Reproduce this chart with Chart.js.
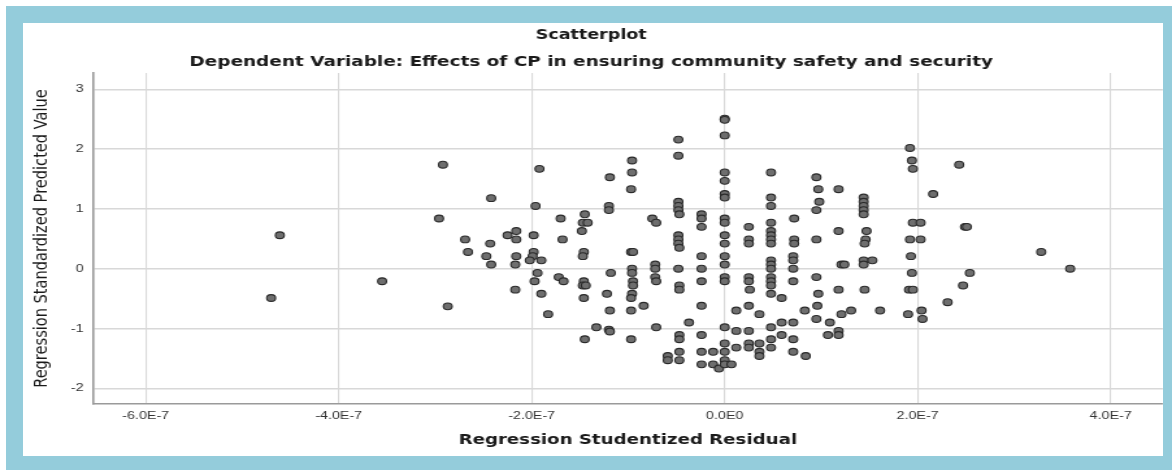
<!DOCTYPE html>
<html><head><meta charset="utf-8">
<script src="https://cdn.jsdelivr.net/npm/chart.js@4.4.1/dist/chart.umd.min.js"></script>
<style>
html,body{margin:0;padding:0;background:#fff;width:1172px;height:470px;overflow:hidden}
#wrap{position:absolute;left:0;top:0;width:902px;height:470px;transform:scaleX(1.29933);transform-origin:0 0}
#frame{position:absolute;left:6px;top:6px;width:1166px;height:464px;box-sizing:border-box;border-style:solid;border-color:#94CCDB;border-width:17px 9px 14px 17px;pointer-events:none}
</style></head><body>
<div id="wrap"><canvas id="c" width="902" height="470" style="width:902px;height:470px"></canvas></div>
<div id="frame"></div>
<script>
// Regression Studentized Residual (in units of 1E-7)
const residualE7 = [
-2.92,-2.96,-4.61,-3.55,-4.70,-2.87,-1.92,-2.42,-1.96,-1.70,
-1.45,-1.47,-1.42,-1.48,-2.69,-2.16,-2.25,-2.16,-1.98,-2.43,
-1.68,-2.66,-2.47,-2.42,-2.16,-2.17,-1.98,-1.99,-2.02,-1.90,
-1.46,-1.47,-1.94,-1.97,-1.72,-1.67,-1.46,-1.47,-1.44,-2.17,
-1.90,-1.46,-1.83,-1.33,-1.45,-1.19,-1.20,-1.20,-1.18,-1.22,
-1.19,-1.20,-1.19,-0.96,-0.96,-0.97,-0.97,-0.95,-0.96,-0.96,
-0.95,-0.95,-0.96,-0.97,-0.97,-0.97,-0.84,-0.75,-0.71,-0.72,
-0.72,-0.72,-0.71,-0.71,-0.48,-0.48,-0.48,-0.48,-0.48,-0.47,
-0.48,-0.48,-0.48,-0.47,-0.48,-0.47,-0.47,-0.47,-0.47,-0.47,
-0.47,-0.59,-0.59,-0.37,-0.24,-0.24,-0.24,-0.24,-0.24,-0.24,
-0.24,-0.24,-0.24,-0.24,-0.12,-0.12,-0.06,0.00,0.00,0.00,
0.00,0.00,0.00,0.00,0.00,0.00,0.00,0.00,0.00,0.00,
0.00,0.00,0.00,0.00,0.00,0.00,0.00,0.07,0.12,0.12,
0.12,0.25,0.25,0.25,0.25,0.25,0.26,0.25,0.25,0.25,
0.25,0.36,0.36,0.36,0.36,0.48,0.48,0.48,0.48,0.48,
0.48,0.48,0.48,0.48,0.48,0.48,0.48,0.48,0.48,0.48,
0.48,0.48,0.48,0.59,0.59,0.59,0.72,0.72,0.72,0.71,
0.71,0.71,0.71,0.71,0.71,0.71,0.84,0.83,0.95,0.97,
0.98,0.95,0.95,0.95,0.97,0.96,0.95,1.09,1.07,1.18,
1.18,1.21,1.24,1.18,1.21,1.18,1.18,1.31,1.44,1.44,
1.44,1.44,1.44,1.47,1.46,1.45,1.44,1.44,1.53,1.45,
1.61,1.92,1.94,1.95,2.16,1.95,2.03,1.92,2.03,1.93,
1.94,1.91,1.95,1.90,2.04,2.05,2.31,2.43,2.49,2.51,
3.28,3.58,2.54,2.47
];
// Regression Standardized Predicted Value
const predicted = [
1.74,0.84,0.56,-0.21,-0.49,-0.63,1.67,1.18,1.05,0.84,
0.91,0.77,0.77,0.63,0.49,0.63,0.56,0.49,0.56,0.42,
0.49,0.28,0.21,0.07,0.21,0.07,0.28,0.21,0.14,0.14,
0.28,0.21,-0.07,-0.21,-0.14,-0.21,-0.21,-0.28,-0.28,-0.35,
-0.42,-0.49,-0.76,-0.98,-1.18,1.53,1.05,0.98,-0.07,-0.42,
-0.70,-1.02,-1.05,1.81,1.61,1.33,0.28,0.28,0.00,-0.07,
-0.21,-0.28,-0.42,-0.49,-0.70,-1.18,-0.62,0.84,0.77,0.07,
0.00,-0.14,-0.21,-0.98,2.16,1.89,1.12,1.05,0.98,0.91,
0.56,0.49,0.42,0.35,0.00,-0.28,-0.35,-1.11,-1.18,-1.39,
-1.53,-1.46,-1.53,-0.90,0.91,0.84,0.70,0.21,0.00,-0.21,
-0.62,-1.11,-1.39,-1.60,-1.39,-1.60,-1.67,2.51,2.49,2.23,
1.61,1.47,1.25,1.19,0.84,0.77,0.56,0.42,0.21,0.07,
-0.14,-0.21,-0.98,-1.25,-1.39,-1.53,-1.60,-1.60,-0.70,-1.04,
-1.32,0.70,0.49,0.42,-0.14,-0.21,-0.35,-0.62,-1.04,-1.25,
-1.32,-0.76,-1.25,-1.39,-1.46,1.61,1.19,1.05,0.77,0.63,
0.56,0.49,0.42,0.14,0.07,0.00,-0.14,-0.21,-0.28,-0.42,
-0.98,-1.18,-1.32,-0.49,-0.90,-1.11,0.84,0.49,0.42,0.21,
0.14,0.00,-0.21,-0.90,-1.18,-1.39,-1.46,-0.70,1.53,1.33,
1.12,0.98,0.49,-0.14,-0.42,-0.62,-0.84,-0.90,-1.11,1.33,
0.63,0.07,0.07,-0.35,-0.76,-1.04,-1.11,-0.70,1.19,1.12,
1.05,0.98,0.91,0.63,0.49,0.42,0.14,0.07,0.14,-0.35,
-0.70,2.02,1.81,1.67,1.25,0.77,0.77,0.49,0.49,0.21,
-0.07,-0.35,-0.35,-0.76,-0.70,-0.84,-0.56,1.74,0.70,0.70,
0.28,0.00,-0.07,-0.28
];
const xTickValues = [-6, -4, -2, 0, 2, 4];
const xTickLabels = ['-6.0E-7', '-4.0E-7', '-2.0E-7', '0.0E0', '2.0E-7', '4.0E-7'];
const yTickValues = [-2, -1, 0, 1, 2, 3];
const yTickLabels = ['-2', '-1', '0', '1', '2', '3'];

const points = residualE7.map((x, i) => ({ x: x, y: predicted[i] }));

new Chart(document.getElementById('c'), {
  type: 'scatter',
  data: { datasets: [{
    data: points,
    pointRadius: 3.4, pointHoverRadius: 3.4, borderWidth: 1.1,
    backgroundColor: '#6e6e6e', borderColor: '#2a2a2a'
  }] },
  options: {
    responsive: false, animation: false, devicePixelRatio: 1,
    layout: { padding: { left: 15, right: 7, top: 0, bottom: 0 } },
    plugins: {
      legend: { display: false }, tooltip: { enabled: false },
      title: { display: true, text: 'Scatterplot', color: '#1a1a1a',
        font: { family: 'DejaVu Sans', size: 13.5, weight: 'bold', lineHeight: 1.2 },
        padding: { top: 26.9, bottom: 0 } },
      subtitle: { display: true, text: 'Dependent Variable: Effects of CP in ensuring community safety and security', color: '#1a1a1a',
        font: { family: 'DejaVu Sans', size: 14.2, weight: 'bold', lineHeight: 1.2 },
        padding: { top: 10.4, bottom: 2.5 } }
    },
    scales: {
      x: {
        type: 'linear', min: -6.549, max: 4.541,
        afterBuildTicks: s => { s.ticks = xTickValues.map(v => ({ value: v })); },
        afterFit: s => { s.height = 66; },
        ticks: { callback: (v, i) => xTickLabels[i], color: '#333', font: { family: 'Liberation Sans', size: 11 }, padding: 5, maxRotation: 0, autoSkip: false },
        grid: { color: '#d8d8d8', lineWidth: 1.1, drawTicks: false },
        border: { display: true, color: '#9a9a9a', width: 1.6 },
        title: { display: true, text: 'Regression Studentized Residual', color: '#1a1a1a',
          font: { family: 'DejaVu Sans', size: 14, weight: 'bold', lineHeight: 1.2 },
          padding: { top: 0, bottom: 21.6 } }
      },
      y: {
        type: 'linear', min: -2.263, max: 3.273,
        afterBuildTicks: s => { s.ticks = yTickValues.map(v => ({ value: v })); },
        afterFit: s => { s.width = 56.35; },
        ticks: { callback: (v, i) => yTickLabels[i], color: '#333', font: { family: 'Liberation Sans', size: 11 }, padding: 7, autoSkip: false },
        grid: { color: '#d8d8d8', lineWidth: 1.5, drawTicks: false },
        border: { display: true, color: '#9a9a9a', width: 1.6 },
        title: { display: true, text: 'Regression Standardized Predicted Value', color: '#1a1a1a',
          font: { family: 'DejaVu Sans', size: 14.6, weight: 'normal', lineHeight: 1.2 },
          padding: { top: 8.3, bottom: 0 } }
      }
    }
  }
});
</script>
</body></html>
